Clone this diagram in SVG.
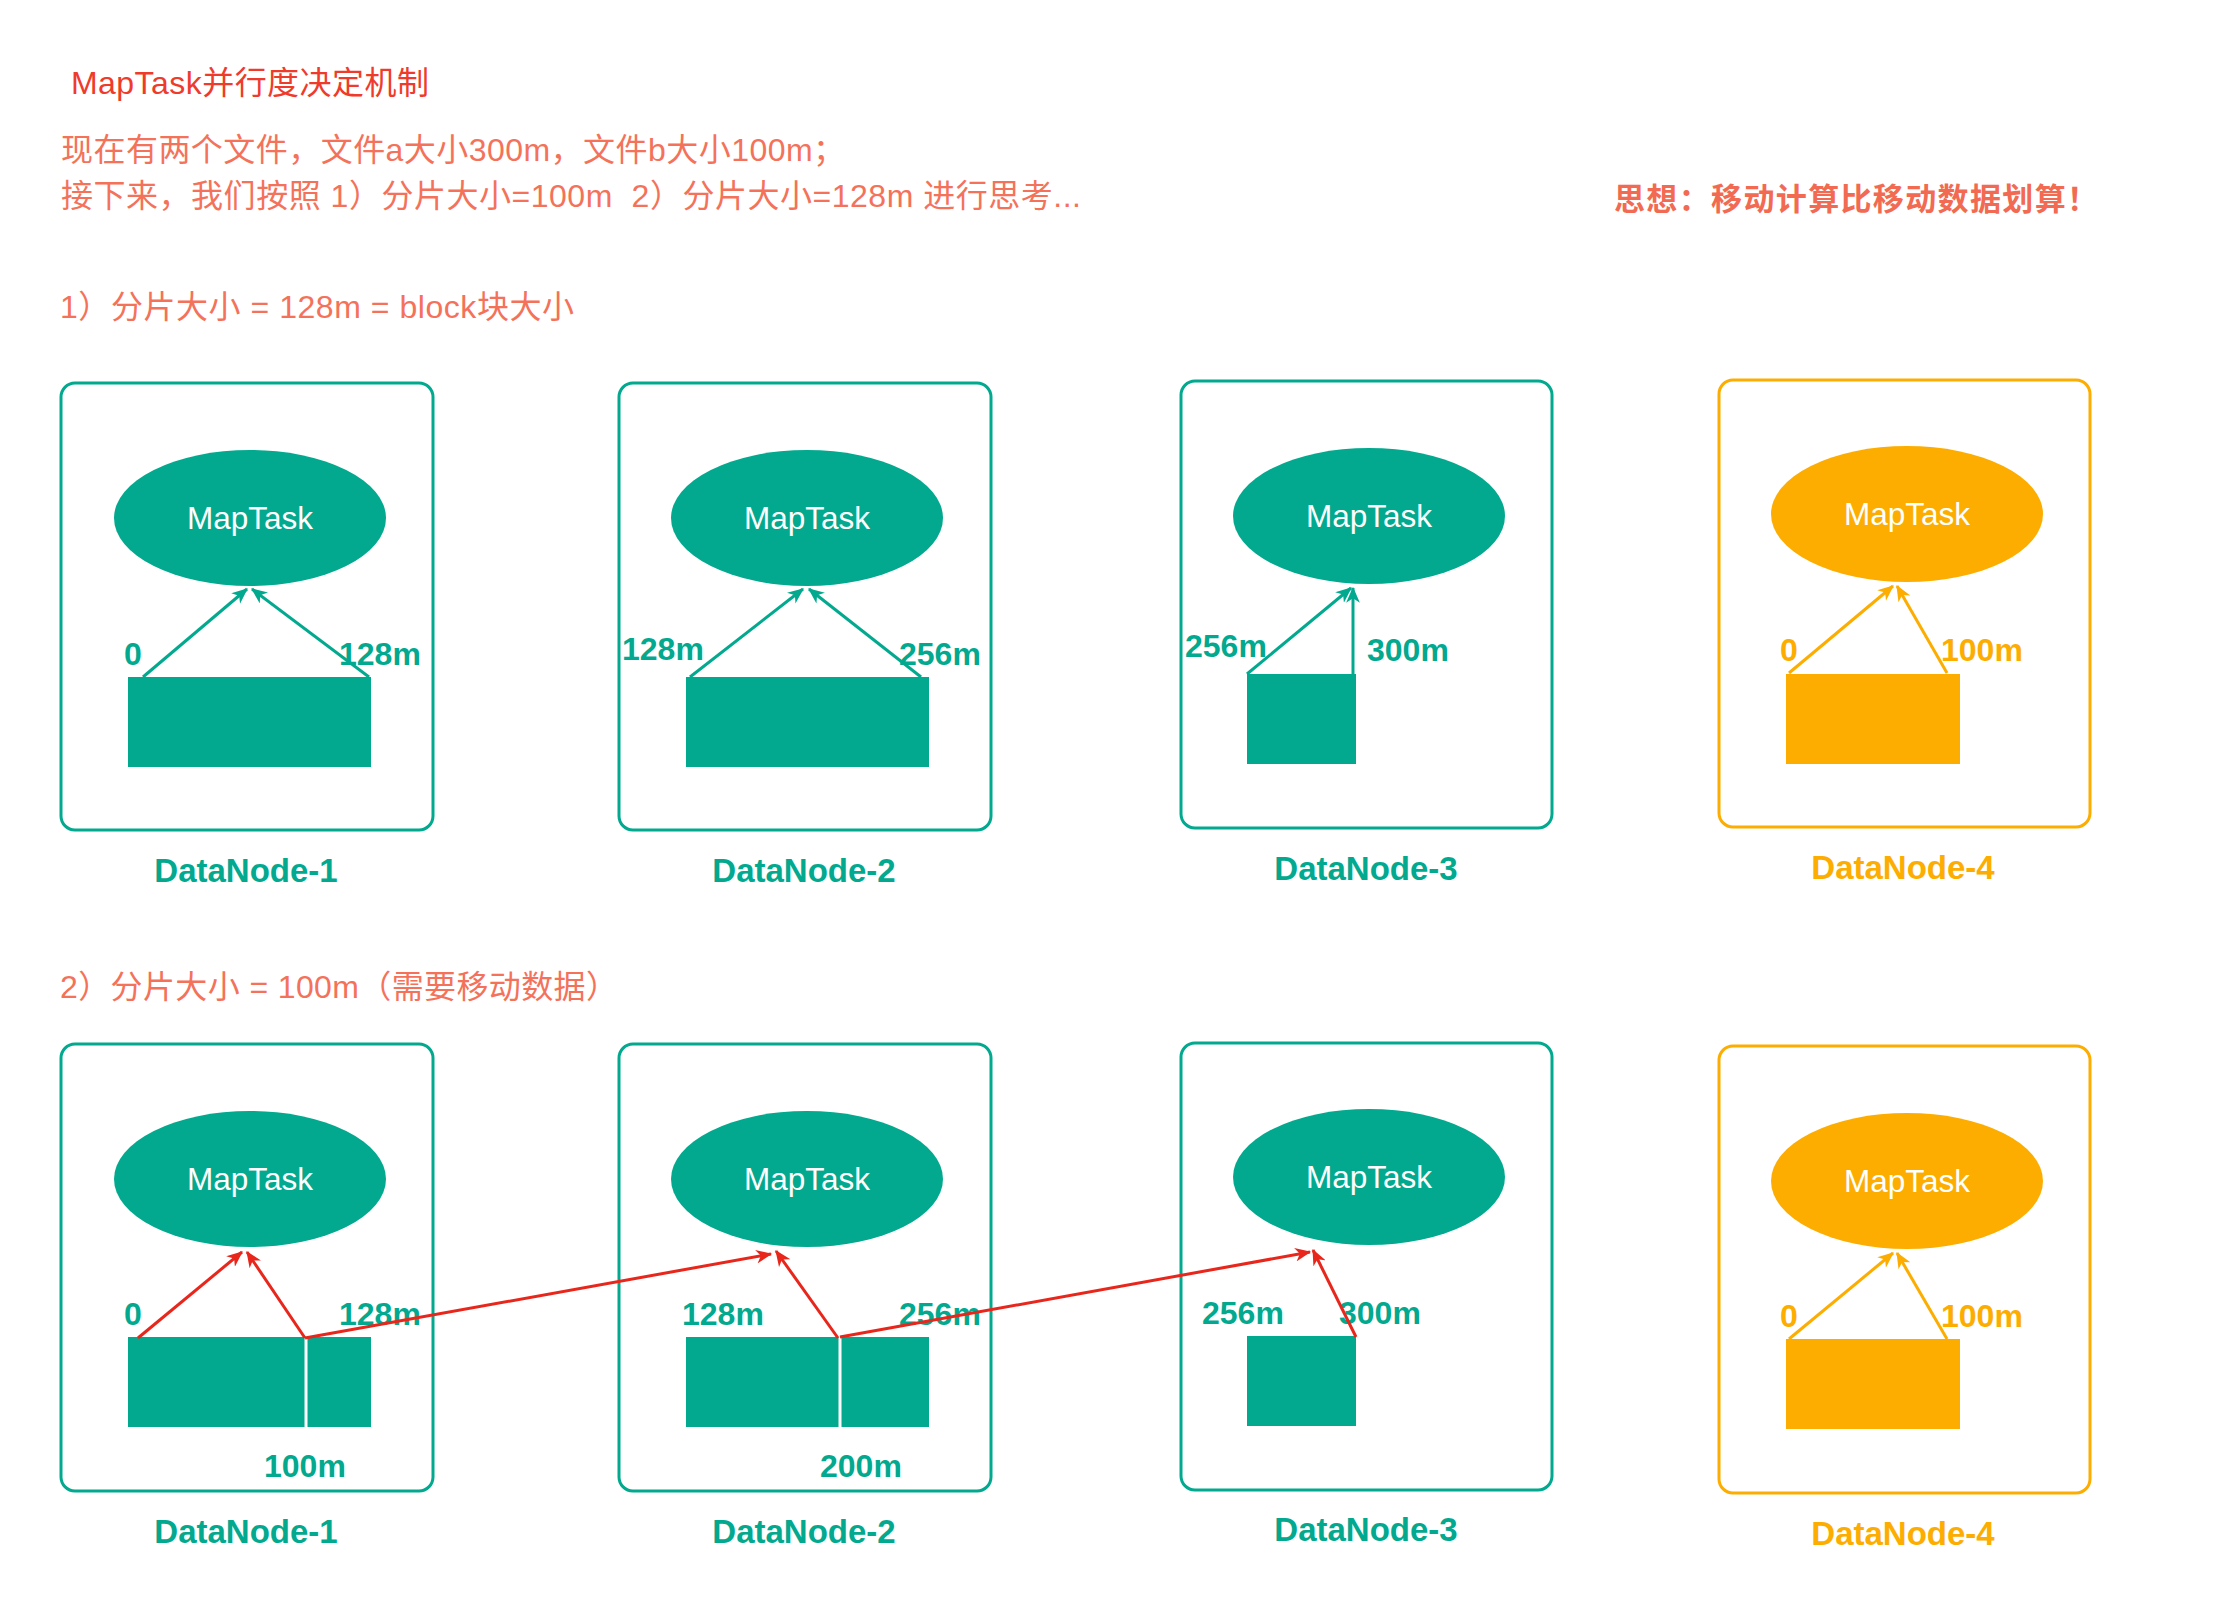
<svg xmlns="http://www.w3.org/2000/svg" width="2240" height="1614" viewBox="0 0 2240 1614">
<style>
  .t { font-family: "Liberation Sans", "Noto Sans CJK SC", sans-serif; }
  .head { fill: #EF3B2B; font-size: 32px; }
  .note { fill: #F4725A; font-size: 32px; white-space: pre; }
  .idea { fill: #F26A52; font-size: 31px; font-weight: bold; }
  .boxT { fill: #FFFFFF; stroke: #02A98E; stroke-width: 3; }
  .boxO { fill: #FFFFFF; stroke: #FDAD00; stroke-width: 3; }
  .fT { fill: #02A98E; }
  .fO { fill: #FDAD00; }
  .mt { fill: #FFFFFF; font-size: 31.5px; text-anchor: middle; }
  .lbT { fill: #02A98E; font-size: 32px; font-weight: bold; }
  .lbO { fill: #FDAD00; font-size: 32px; font-weight: bold; }
  .dnT { fill: #02A98E; font-size: 33px; font-weight: bold; text-anchor: middle; }
  .dnO { fill: #FDAD00; font-size: 33px; font-weight: bold; text-anchor: middle; }
  .cT { stroke: #02A98E; stroke-width: 3; fill: none; marker-end: url(#ahT); }
  .cO { stroke: #FDAD00; stroke-width: 3; fill: none; marker-end: url(#ahO); }
  .cR { stroke: #E8261B; stroke-width: 3; fill: none; marker-end: url(#ahR); }
  .div { stroke: #FFFFFF; stroke-width: 3; }
</style>
<defs>
  <marker id="ahT" viewBox="0 0 14 12" refX="13" refY="6" markerWidth="16" markerHeight="14" markerUnits="userSpaceOnUse" orient="auto">
    <path d="M0,0 L14,6 L0,12 L4,6 z" fill="#02A98E"/>
  </marker>
  <marker id="ahO" viewBox="0 0 14 12" refX="13" refY="6" markerWidth="16" markerHeight="14" markerUnits="userSpaceOnUse" orient="auto">
    <path d="M0,0 L14,6 L0,12 L4,6 z" fill="#FDAD00"/>
  </marker>
  <marker id="ahR" viewBox="0 0 14 12" refX="13" refY="6" markerWidth="16" markerHeight="14" markerUnits="userSpaceOnUse" orient="auto">
    <path d="M0,0 L14,6 L0,12 L4,6 z" fill="#E8261B"/>
  </marker>
</defs>
<rect width="2240" height="1614" fill="#FFFFFF"/>

<g id="texts" class="t">
  <text class="head" x="71" y="94" textLength="358">MapTask并行度决定机制</text>
  <text class="note" x="61" y="161" textLength="784">现在有两个文件，文件a大小300m，文件b大小100m；</text>
  <text class="note" x="61" y="207" textLength="1020" xml:space="preserve">接下来，我们按照 1）分片大小=100m  2）分片大小=128m 进行思考...</text>
  <text class="idea" x="1614" y="210" textLength="484">思想：移动计算比移动数据划算！</text>
  <text class="note" x="60" y="318" textLength="514">1）分片大小 = 128m = block块大小</text>
  <text class="note" x="60" y="998" textLength="558">2）分片大小 = 100m（需要移动数据）</text>
</g>

<!-- Row 1 -->
<g id="r1-dn1" class="t">
  <rect class="boxT" x="61" y="383" width="372" height="447" rx="14"/>
  <ellipse class="fT" cx="250" cy="518" rx="136" ry="68"/>
  <text class="mt" x="250" y="529">MapTask</text>
  <rect class="fT" x="128" y="677" width="243" height="90"/>
  <text class="lbT" x="124" y="665">0</text>
  <text class="lbT" x="339" y="665">128m</text>
  <text class="dnT" x="246" y="882">DataNode-1</text>
</g>
<g id="r1-dn2" class="t">
  <rect class="boxT" x="619" y="383" width="372" height="447" rx="14"/>
  <ellipse class="fT" cx="807" cy="518" rx="136" ry="68"/>
  <text class="mt" x="807" y="529">MapTask</text>
  <rect class="fT" x="686" y="677" width="243" height="90"/>
  <text class="lbT" x="622" y="660">128m</text>
  <text class="lbT" x="899" y="665">256m</text>
  <text class="dnT" x="804" y="882">DataNode-2</text>
</g>
<g id="r1-dn3" class="t">
  <rect class="boxT" x="1181" y="381" width="371" height="447" rx="14"/>
  <ellipse class="fT" cx="1369" cy="516" rx="136" ry="68"/>
  <text class="mt" x="1369" y="527">MapTask</text>
  <rect class="fT" x="1247" y="674" width="109" height="90"/>
  <text class="lbT" x="1185" y="657">256m</text>
  <text class="lbT" x="1367" y="661">300m</text>
  <text class="dnT" x="1366" y="880">DataNode-3</text>
</g>
<g id="r1-dn4" class="t">
  <rect class="boxO" x="1719" y="380" width="371" height="447" rx="14"/>
  <ellipse class="fO" cx="1907" cy="514" rx="136" ry="68"/>
  <text class="mt" x="1907" y="525">MapTask</text>
  <rect class="fO" x="1786" y="674" width="174" height="90"/>
  <text class="lbO" x="1780" y="661">0</text>
  <text class="lbO" x="1941" y="661">100m</text>
  <text class="dnO" x="1903" y="879">DataNode-4</text>
</g>

<!-- Row 2 -->
<g id="r2-dn1" class="t">
  <rect class="boxT" x="61" y="1044" width="372" height="447" rx="14"/>
  <ellipse class="fT" cx="250" cy="1179" rx="136" ry="68"/>
  <text class="mt" x="250" y="1190">MapTask</text>
  <rect class="fT" x="128" y="1337" width="243" height="90"/>
  <line class="div" x1="306" y1="1337" x2="306" y2="1427"/>
  <text class="lbT" x="124" y="1325">0</text>
  <text class="lbT" x="339" y="1325">128m</text>
  <text class="lbT" x="264" y="1477">100m</text>
  <text class="dnT" x="246" y="1543">DataNode-1</text>
</g>
<g id="r2-dn2" class="t">
  <rect class="boxT" x="619" y="1044" width="372" height="447" rx="14"/>
  <ellipse class="fT" cx="807" cy="1179" rx="136" ry="68"/>
  <text class="mt" x="807" y="1190">MapTask</text>
  <rect class="fT" x="686" y="1337" width="243" height="90"/>
  <line class="div" x1="840" y1="1337" x2="840" y2="1427"/>
  <text class="lbT" x="682" y="1325">128m</text>
  <text class="lbT" x="899" y="1325">256m</text>
  <text class="lbT" x="820" y="1477">200m</text>
  <text class="dnT" x="804" y="1543">DataNode-2</text>
</g>
<g id="r2-dn3" class="t">
  <rect class="boxT" x="1181" y="1043" width="371" height="447" rx="14"/>
  <ellipse class="fT" cx="1369" cy="1177" rx="136" ry="68"/>
  <text class="mt" x="1369" y="1188">MapTask</text>
  <rect class="fT" x="1247" y="1336" width="109" height="90"/>
  <text class="lbT" x="1202" y="1324">256m</text>
  <text class="lbT" x="1339" y="1324">300m</text>
  <text class="dnT" x="1366" y="1541">DataNode-3</text>
</g>
<g id="r2-dn4" class="t">
  <rect class="boxO" x="1719" y="1046" width="371" height="447" rx="14"/>
  <ellipse class="fO" cx="1907" cy="1181" rx="136" ry="68"/>
  <text class="mt" x="1907" y="1192">MapTask</text>
  <rect class="fO" x="1786" y="1339" width="174" height="90"/>
  <text class="lbO" x="1780" y="1327">0</text>
  <text class="lbO" x="1941" y="1327">100m</text>
  <text class="dnO" x="1903" y="1545">DataNode-4</text>
</g>

<g id="connectors">
  <!-- row 1 -->
  <line class="cT" x1="143" y1="677" x2="247" y2="589"/>
  <line class="cT" x1="369" y1="677" x2="252" y2="589"/>
  <line class="cT" x1="690" y1="677" x2="803" y2="589"/>
  <line class="cT" x1="921" y1="677" x2="809" y2="589"/>
  <line class="cT" x1="1247" y1="674" x2="1351" y2="588"/>
  <line class="cT" x1="1353" y1="674" x2="1353" y2="588"/>
  <line class="cO" x1="1789" y1="673" x2="1893" y2="586"/>
  <line class="cO" x1="1947" y1="673" x2="1897" y2="586"/>
  <!-- row 2 -->
  <line class="cR" x1="138" y1="1338" x2="242" y2="1252"/>
  <line class="cR" x1="305" y1="1338" x2="247" y2="1252"/>
  <line class="cR" x1="305" y1="1338" x2="771" y2="1254"/>
  <line class="cR" x1="838" y1="1338" x2="776" y2="1251"/>
  <line class="cR" x1="840" y1="1337" x2="1310" y2="1252"/>
  <line class="cR" x1="1356" y1="1337" x2="1313" y2="1250"/>
  <line class="cO" x1="1789" y1="1339" x2="1893" y2="1253"/>
  <line class="cO" x1="1947" y1="1339" x2="1897" y2="1253"/>
</g>
</svg>
